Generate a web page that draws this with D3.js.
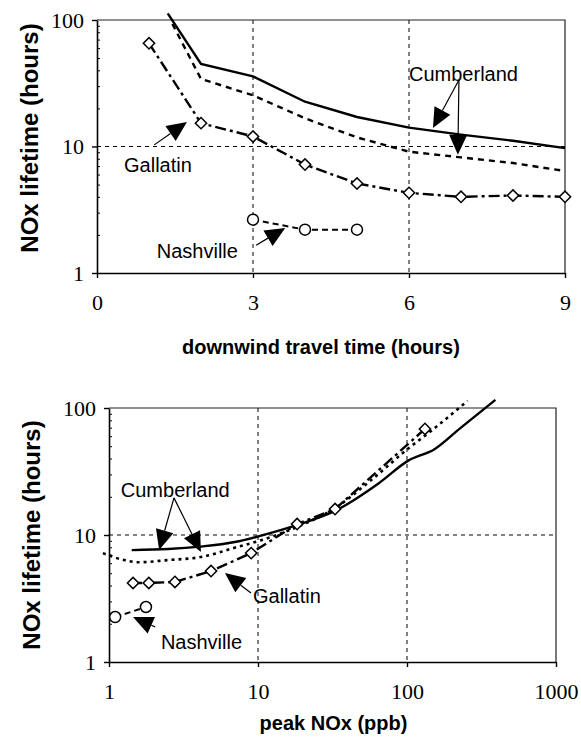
<!DOCTYPE html>
<html>
<head>
<meta charset="utf-8">
<title>NOx lifetime vs travel time and peak NOx</title>
<script src="https://d3js.org/d3.v7.min.js"></script>
<style>
    body { margin: 0; background: #fff; }
    svg { display: block; }
    .tick text { font-family: "Liberation Serif", "Times New Roman", serif; font-size: 22px; fill: #000; }
    .axis-title { font-family: "Liberation Sans", Arial, sans-serif; font-weight: bold; font-size: 20px; fill: #000; }
    .note { font-family: "Liberation Sans", Arial, sans-serif; font-size: 20px; fill: #000; }
</style>
</head>
<body>
<svg id="chart" width="581" height="742"></svg>
<script>
// ---- top panel: lifetime vs downwind travel time ----
const travelTicks = [0, 3, 6, 9];
const lifeTicks = [1, 10, 100];

const cumbSolidTime = [1.36, 2, 3, 4, 5, 6, 7, 8, 9];
const cumbSolidLife = [113, 45, 35.8, 22.6, 17.1, 14.1, 12.4, 11.1, 9.7];
const cumbDashTime = [1.45, 2, 3, 4, 5, 6, 7, 8, 9];
const cumbDashLife = [93, 34.2, 25.4, 16.7, 11.8, 9.1, 8.2, 7.4, 6.4];
const gallTime = [1, 2, 3, 4, 5, 6, 7, 8, 9];
const gallLife = [65.4, 15.3, 12.0, 7.2, 5.1, 4.3, 4.0, 4.1, 4.0];
const nashTime = [3, 4, 5];
const nashLife = [2.64, 2.2, 2.2];

// ---- bottom panel: lifetime vs peak NOx ----
const noxTicks = [1, 10, 100, 1000];

const cumbSolidNox = [1.42, 2.5, 4.1, 7, 10.2, 18.4, 33.6, 64.7, 102, 153, 228, 392];
const cumbSolidNoxLife = [7.6, 7.75, 8.1, 8.8, 9.8, 12.0, 15.7, 25.6, 38.5, 47.4, 69.5, 116];
const cumbDotNox = [0.91, 1.26, 1.56, 2.5, 4.1, 7.4, 10.2, 18.4, 32.6, 57.8, 102, 144, 255];
const cumbDotLife = [7.2, 6.35, 6.1, 6.35, 6.7, 8.1, 9.0, 11.6, 16.2, 27.2, 48, 65.5, 114];
const gallNox = [132, 32.9, 18.3, 9.0, 4.84, 2.77, 1.85, 1.45];
const gallNoxLife = [68.4, 16.0, 12.2, 7.2, 5.2, 4.27, 4.19, 4.19];
const nashNox = [1.1, 1.77];
const nashNoxLife = [2.26, 2.71];

// annotation labels and arrows, in data units: [label, x, y] and [x0, y0, x1, y1]
const topLabels = [["Cumberland", 6.0, 33], ["Gallatin", 0.52, 6.29], ["Nashville", 1.15, 1.315]];
const topArrows = [[6.96, 33.6, 6.46, 14.0], [6.96, 33.6, 6.94, 8.6], [1.1, 10.3, 1.73, 15.6], [3.06, 1.66, 3.62, 2.27]];
const botLabels = [["Cumberland", 1.2, 19.9], ["Gallatin", 9.25, 2.92], ["Nashville", 2.23, 1.265]];
const botArrows = [[2.73, 19.6, 2.17, 7.62], [2.73, 19.6, 4.14, 7.34], [8.97, 3.49, 6.0, 5.02], [2.04, 1.89, 1.45, 2.26]];

const svg = d3.select("#chart");
svg.append("rect").attr("width", 581).attr("height", 742).attr("fill", "#fff");

const topBox = { left: 97, right: 565, top: 20, bottom: 273 };
const botBox = { left: 109, right: 556, top: 408, bottom: 662 };

const xTime = d3.scaleLinear().domain([0, 9]).range([topBox.left, topBox.right]);
const yTop = d3.scaleLog().domain([1, 100]).range([topBox.bottom, topBox.top]);
const xNox = d3.scaleLog().domain([1, 1000]).range([botBox.left, botBox.right]);
const yBot = d3.scaleLog().domain([1, 100]).range([botBox.bottom, botBox.top]);

const minorLife = [2, 3, 4, 5, 6, 7, 8, 9, 20, 30, 40, 50, 60, 70, 80, 90];

function drawFrame(box, x, y, xTicks, xGrid, xFormat) {
    const g = svg.append("g");
    // dashed grid
    xGrid.forEach(v => {
        g.append("line")
            .attr("x1", x(v)).attr("x2", x(v))
            .attr("y1", box.top).attr("y2", box.bottom)
            .attr("stroke", "#000").attr("stroke-width", 1)
            .attr("stroke-dasharray", "4,4");
    });
    g.append("line")
        .attr("x1", box.left).attr("x2", box.right)
        .attr("y1", y(10)).attr("y2", y(10))
        .attr("stroke", "#000").attr("stroke-width", 1)
        .attr("stroke-dasharray", "4,4");

    // top and right border
    g.append("path")
        .attr("d", `M${box.left},${box.top}H${box.right}V${box.bottom}`)
        .attr("fill", "none").attr("stroke", "#222").attr("stroke-width", 1.2);

    // y axis
    const yAxis = g.append("g")
        .attr("transform", `translate(${box.left},0)`)
        .call(d3.axisLeft(y).tickValues(lifeTicks).tickFormat(d3.format("d"))
            .tickSizeInner(5).tickSizeOuter(0).tickPadding(8));
    yAxis.select(".domain").attr("stroke-width", 1.6);
    yAxis.selectAll(".tick line").attr("stroke-width", 1.4);

    g.append("g")
        .attr("transform", `translate(${box.left},0)`)
        .call(d3.axisRight(y).tickValues(minorLife).tickFormat("").tickSize(3))
        .call(a => a.select(".domain").remove())
        .selectAll(".tick line").attr("stroke-width", 1);

    // x axis
    const xAxis = g.append("g")
        .attr("transform", `translate(0,${box.bottom})`)
        .call(d3.axisBottom(x).tickValues(xTicks).tickFormat(xFormat)
            .tickSizeInner(5).tickSizeOuter(0).tickPadding(16));
    xAxis.select(".domain").attr("stroke-width", 1.6);
    xAxis.selectAll(".tick line").attr("stroke-width", 1.4);
}

function drawSeries(xs, ys, x, y, dash, width, curve) {
    const pts = xs.map((v, i) => [x(v), y(ys[i])]);
    svg.append("path")
        .attr("d", d3.line().curve(curve || d3.curveLinear)(pts))
        .attr("fill", "none")
        .attr("stroke", "#000")
        .attr("stroke-width", width)
        .attr("stroke-dasharray", dash);
    return pts;
}

function drawDiamonds(pts) {
    svg.append("g").selectAll("path")
        .data(pts).enter().append("path")
        .attr("d", d3.symbol(d3.symbolSquare, 64)())
        .attr("transform", d => `translate(${d[0]},${d[1]}) rotate(45)`)
        .attr("fill", "#fff").attr("stroke", "#000").attr("stroke-width", 1.5);
}

function drawCircles(pts) {
    svg.append("g").selectAll("circle")
        .data(pts).enter().append("circle")
        .attr("cx", d => d[0]).attr("cy", d => d[1]).attr("r", 5.5)
        .attr("fill", "#fff").attr("stroke", "#000").attr("stroke-width", 1.5);
}

function drawNotes(labels, arrows, x, y) {
    labels.forEach(l => {
        svg.append("text").attr("class", "note")
            .attr("x", x(l[1])).attr("y", y(l[2]))
            .text(l[0]);
    });
    arrows.forEach(a => {
        const x0 = x(a[0]), y0 = y(a[1]), x1 = x(a[2]), y1 = y(a[3]);
        const len = Math.hypot(x1 - x0, y1 - y0);
        const ux = (x1 - x0) / len, uy = (y1 - y0) / len;
        const head = 20, half = 9;
        const bx = x1 - ux * head, by = y1 - uy * head;
        svg.append("line")
            .attr("x1", x0).attr("y1", y0).attr("x2", bx).attr("y2", by)
            .attr("stroke", "#000").attr("stroke-width", 1.2);
        svg.append("path")
            .attr("d", `M${x1},${y1}L${bx - uy * half},${by + ux * half}L${bx + uy * half},${by - ux * half}Z`)
            .attr("fill", "#000");
    });
}

// top panel
drawFrame(topBox, xTime, yTop, travelTicks, [3, 6], d3.format("d"));
drawSeries(cumbSolidTime, cumbSolidLife, xTime, yTop, null, 2.4);
drawSeries(cumbDashTime, cumbDashLife, xTime, yTop, "6,5", 2.4);
drawDiamonds(drawSeries(gallTime, gallLife, xTime, yTop, "11,4,3,4", 2.4));
drawCircles(drawSeries(nashTime, nashLife, xTime, yTop, "6,4", 2));
drawNotes(topLabels, topArrows, xTime, yTop);

// bottom panel
drawFrame(botBox, xNox, yBot, noxTicks, [10, 100], d3.format("d"));
drawSeries(cumbSolidNox, cumbSolidNoxLife, xNox, yBot, null, 2.4, d3.curveMonotoneX);
drawSeries(cumbDotNox, cumbDotLife, xNox, yBot, "3,4", 2.6, d3.curveMonotoneX);
drawDiamonds(drawSeries(gallNox, gallNoxLife, xNox, yBot, "11,4,3,4", 2.4));
drawCircles(drawSeries(nashNox, nashNoxLife, xNox, yBot, "6,4", 2));
drawNotes(botLabels, botArrows, xNox, yBot);

// axis titles
svg.append("text").attr("class", "axis-title")
    .attr("x", (topBox.left + topBox.right) / 2 - 10).attr("y", 354)
    .attr("text-anchor", "middle")
    .text("downwind travel time (hours)");
svg.append("text").attr("class", "axis-title")
    .attr("x", (botBox.left + botBox.right) / 2 + 1).attr("y", 730)
    .attr("text-anchor", "middle")
    .text("peak NOx (ppb)");

[[38, 138], [40, 535]].forEach(p => {
    svg.append("text").attr("class", "axis-title")
        .attr("transform", `translate(${p[0]},${p[1]}) rotate(-90)`)
        .attr("text-anchor", "middle")
        .style("font-size", "24px")
        .text("NOx lifetime (hours)");
});
</script>
</body>
</html>
